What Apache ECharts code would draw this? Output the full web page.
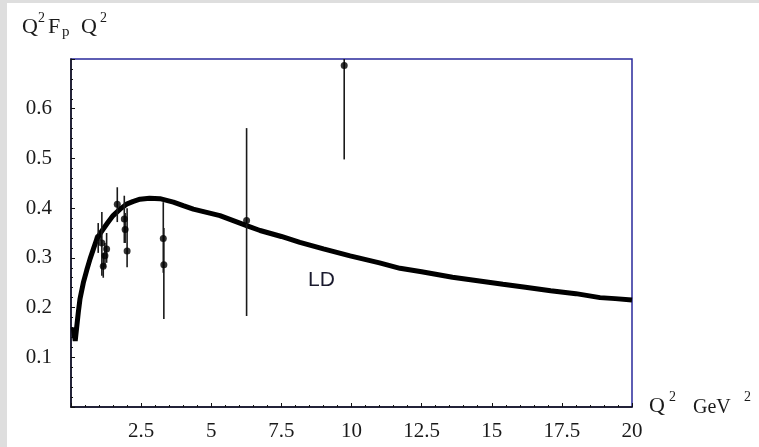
<!DOCTYPE html>
<html>
<head>
<meta charset="utf-8">
<script src="https://cdn.jsdelivr.net/npm/echarts@6/dist/echarts.min.js"></script>
<style>
html,body{margin:0;padding:0;background:#fff;}
#c{width:759px;height:447px;}
</style>
</head>
<body>
<div id="c"></div>
<script>
// LD curve
var curveX = [0.08, 0.15, 0.26, 0.32, 0.44, 0.56, 0.68, 0.8, 0.92, 1.05, 1.15, 1.3, 1.5, 1.75, 1.98, 2.2, 2.46, 2.8, 3.17, 3.65, 4.0, 4.36, 5.31, 6.26, 6.74, 7.5, 8.16, 9.0, 9.95, 11.0, 11.73, 12.5, 13.6, 14.5, 15.4, 16.2, 17.1, 18.0, 18.86, 19.4, 20];
var curveY = [0.160, 0.133, 0.19, 0.217, 0.25, 0.275, 0.298, 0.318, 0.338, 0.35, 0.358, 0.37, 0.385, 0.398, 0.408, 0.413, 0.418, 0.42, 0.419, 0.412, 0.405, 0.398, 0.385, 0.365, 0.355, 0.343, 0.331, 0.318, 0.304, 0.29, 0.279, 0.272, 0.261, 0.254, 0.247, 0.241, 0.234, 0.228, 0.220, 0.218, 0.215];
// data points with error bars
var pointX = [0.97, 1.1, 1.15, 1.21, 1.27, 1.65, 1.9, 1.93, 2.0, 3.29, 3.31, 6.26, 9.74];
var pointY = [0.341, 0.33, 0.283, 0.304, 0.318, 0.408, 0.378, 0.357, 0.314, 0.339, 0.286, 0.375, 0.687];
var errLo  = [0.31, 0.264, 0.26, 0.28, 0.29, 0.372, 0.33, 0.33, 0.281, 0.27, 0.177, 0.183, 0.498];
var errHi  = [0.37, 0.392, 0.31, 0.33, 0.35, 0.442, 0.425, 0.39, 0.40, 0.412, 0.36, 0.561, 0.75];
var xTicks = [0, 2.5, 5, 7.5, 10, 12.5, 15, 17.5, 20];
var yTicks = [0, 0.1, 0.2, 0.3, 0.4, 0.5, 0.6, 0.7];

var chart = echarts.init(document.getElementById('c'));
var serif = '"Liberation Serif", "Times New Roman", serif';
var curve = curveX.map(function(x, i){ return [x, curveY[i]]; });
var pts = pointX.map(function(x, i){ return [x, pointY[i]]; });
var errs = pointX.map(function(x, i){ return [x, errLo[i], errHi[i]]; });

function txt(t, x, y, size, fam, color){
  return {type:'text', left:x, top:y, z:10,
    style:{text:t, font: size + 'px ' + fam, fill: color || '#1a1a1a'}};
}

chart.setOption({
  backgroundColor:'#ffffff',
  animation:false,
  grid:{left:71, top:59, right:127, bottom:40, show:true, borderColor:'#2a2a9c', borderWidth:1.5, backgroundColor:'transparent'},
  xAxis:{type:'value', min:xTicks[0], max:xTicks[xTicks.length-1], interval:2.5,
    axisLine:{show:true, lineStyle:{color:'#111', width:1.5}},
    axisTick:{show:true, inside:true, length:4, lineStyle:{color:'#111'}},
    minorTick:{show:true, splitNumber:5, length:2, lineStyle:{color:'#111'}},
    splitLine:{show:false},
    axisLabel:{margin:14, fontFamily:serif, fontSize:21, color:'#1a1a1a',
      formatter:function(v){ return (v===0)?'':String(v); }}
  },
  yAxis:{type:'value', min:yTicks[0], max:yTicks[yTicks.length-1], interval:0.1,
    axisLine:{show:true, lineStyle:{color:'#111', width:1.5}},
    axisTick:{show:true, inside:true, length:4, lineStyle:{color:'#111'}},
    minorTick:{show:true, splitNumber:5, length:2, lineStyle:{color:'#111'}},
    splitLine:{show:false},
    axisLabel:{margin:19, fontFamily:serif, fontSize:21, color:'#1a1a1a',
      formatter:function(v){ var r=Math.round(v*10)/10; return (r===0||r===0.7)?'':r.toFixed(1); }}
  },
  graphic:[
    {type:'rect', shape:{x:0,y:0,width:7,height:447}, style:{fill:'#dedede'}, z:-1},
    {type:'rect', shape:{x:0,y:0,width:759,height:3}, style:{fill:'#dedede'}, z:-1},
    txt('Q', 22, 16, 22, serif),
    txt('2', 38, 11, 14, serif),
    txt('F', 48, 16, 22, serif),
    txt('p', 62, 25, 15, serif),
    txt('Q', 81, 16, 22, serif),
    txt('2', 100, 11, 14, serif),
    txt('Q', 649, 395, 22, serif),
    txt('2', 669, 390, 14, serif),
    txt('GeV', 693, 398, 20, serif),
    txt('2', 744, 390, 14, serif),
    txt('LD', 308, 270, 21, 'Arimo, "Liberation Sans", Arial, sans-serif', '#1a1a2e')
  ],
  series:[
    {type:'line', data:curve, showSymbol:false, smooth:false, clip:true,
      lineStyle:{color:'#000', width:5}, z:2},
    {type:'custom', data:errs, clip:true, z:3,
      renderItem:function(params, api){
        var a = api.coord([api.value(0), api.value(1)]);
        var b = api.coord([api.value(0), api.value(2)]);
        return {type:'line', shape:{x1:a[0], y1:a[1], x2:b[0], y2:b[1]},
          style:{stroke:'#1a1a1a', lineWidth:1.6}};
      },
      encode:{x:0, y:[1,2]}
    },
    {type:'scatter', data:pts, symbol:'circle', symbolSize:7, itemStyle:{color:'#000'}, z:4}
  ]
});
</script>
</body>
</html>
